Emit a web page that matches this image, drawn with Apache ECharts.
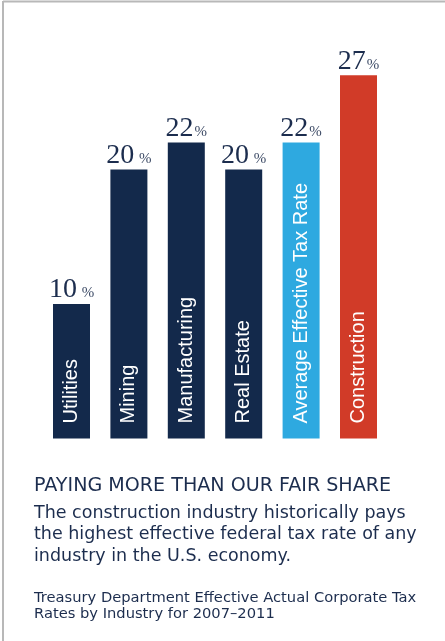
<!DOCTYPE html>
<html>
<head>
<meta charset="utf-8">
<script src="https://cdn.jsdelivr.net/npm/echarts@6/dist/echarts.min.js"></script>
<style>
html,body{margin:0;padding:0;background:#fff;}
#c{width:445px;height:641px;}
</style>
</head>
<body>
<div id="c"></div>
<script>
const categories = ["Utilities", "Mining", "Manufacturing", "Real Estate", "Average Effective Tax Rate", "Construction"];
const rates = [10, 20, 22, 20, 22, 27];
const rateGap = [" ", " ", "", " ", "", ""];
const barColors = ["#13294b", "#13294b", "#13294b", "#13294b", "#2ea9e0", "#d13b28"];
const heading = "PAYING MORE THAN OUR FAIR SHARE";
const bodyLines = ["The construction industry historically pays", "the highest effective federal tax rate of any", "industry in the U.S. economy."];
const sourceLines = ["Treasury Department Effective Actual Corporate Tax", "Rates by Industry for 2007\u20132011"];

const navy = "#1c2d4e";
const chart = echarts.init(document.getElementById('c'));
chart.setOption({
  animation: false,
  grid: {left: 42.8, right: 57.8, top: 35, bottom: 202.5},
  xAxis: {type: 'category', data: categories, show: false, boundaryGap: true},
  yAxis: {type: 'value', min: 0, max: 30, show: false},
  series: [
    {
      type: 'bar',
      barWidth: 37,
      data: rates.map((v, i) => ({value: v, itemStyle: {color: barColors[i]}})),
      label: {
        show: true,
        position: 'top',
        distance: 0,
        formatter: p => '{n|' + rates[p.dataIndex] + '}{p|' + rateGap[p.dataIndex] + '%}',
        rich: {
          n: {fontFamily: 'Liberation Serif', fontSize: 28, color: navy, verticalAlign: 'bottom'},
          p: {fontFamily: 'Liberation Serif', fontSize: 15, color: '#3d4b66', verticalAlign: 'bottom', padding: [0, 0, 3, 1]}
        }
      }
    },
    {
      type: 'bar',
      barWidth: 37,
      barGap: '-100%',
      silent: true,
      data: rates,
      itemStyle: {color: 'rgba(0,0,0,0)'},
      label: {
        show: true,
        position: 'insideBottom',
        rotate: 90,
        align: 'left',
        verticalAlign: 'middle',
        distance: 15,
        formatter: p => categories[p.dataIndex],
        fontFamily: 'Liberation Sans',
        fontSize: 20,
        color: '#ffffff'
      }
    }
  ],
  graphic: [
    {type: 'line', shape: {x1: 3, y1: 1.5, x2: 445, y2: 1.5}, style: {stroke: '#b8b8b8', lineWidth: 2}, silent: true},
    {type: 'line', shape: {x1: 3, y1: 1, x2: 3, y2: 641}, style: {stroke: '#b8b8b8', lineWidth: 2}, silent: true},
    {type: 'text', x: 34, y: 475.5, style: {text: heading, font: '19.1px "DejaVu Sans"', fill: navy, textAlign: 'left', textVerticalAlign: 'top', lineHeight: 22}},
    {type: 'text', x: 34, y: 502.5, style: {text: bodyLines.join('\n'), font: '17.5px "DejaVu Sans"', fill: navy, textAlign: 'left', textVerticalAlign: 'top', lineHeight: 21.5}},
    {type: 'text', x: 34, y: 589.5, style: {text: sourceLines.join('\n'), font: '14.7px "DejaVu Sans"', fill: navy, textAlign: 'left', textVerticalAlign: 'top', lineHeight: 16.5}}
  ]
});
</script>
</body>
</html>
